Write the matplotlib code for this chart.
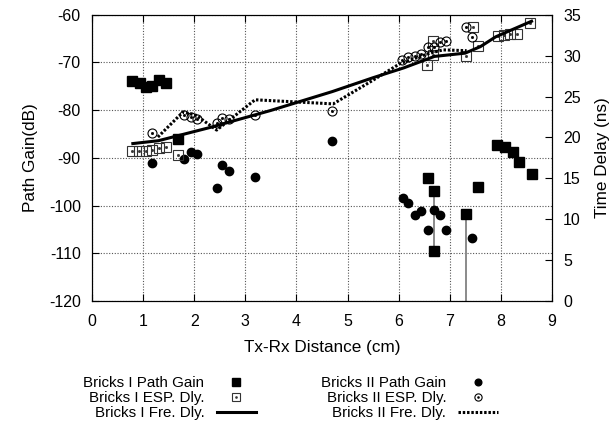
import numpy as np
import matplotlib.pyplot as plt
from matplotlib.legend_handler import HandlerTuple

plt.rcParams['font.family'] = ['Liberation Sans', 'DejaVu Sans']
plt.rcParams['axes.unicode_minus'] = False

# Bricks I path gain (cm, dB)
b1_pg_x = [0.79, 0.94, 1.05, 1.18, 1.31, 1.44, 1.69, 6.57, 6.70, 6.70, 7.32, 7.56,
           7.93, 8.09, 8.23, 8.36, 8.60]
b1_pg_y = [-73.9, -74.4, -75.1, -75.0, -73.6, -74.3, -86.1, -94.3, -97.0, -109.6, -101.7, -96.2,
           -87.4, -87.7, -88.7, -90.8, -93.3]

# Bricks II path gain (cm, dB)
b2_pg_x = [1.18, 1.81, 1.94, 2.06, 2.44, 2.55, 2.68, 3.19, 4.69, 6.08, 6.19, 6.32,
           6.43, 6.57, 6.69, 6.81, 6.93, 7.43]
b2_pg_y = [-91.0, -90.3, -88.7, -89.1, -96.4, -91.5, -92.8, -93.9, -86.4, -98.3, -99.4, -101.9,
           -101.2, -105.0, -101.0, -101.9, -105.0, -106.8]

# Bricks I ESP delay (cm, ns)
b1_esp_x = [0.79, 0.92, 1.05, 1.18, 1.31, 1.44, 1.69, 6.56, 6.68, 6.68, 7.31, 7.45,
            7.56, 7.94, 8.06, 8.18, 8.32, 8.57]
b1_esp_y = [18.3, 18.4, 18.4, 18.5, 18.7, 18.8, 17.9, 28.8, 30.1, 31.8, 29.9, 33.5,
            31.2, 32.4, 32.5, 32.7, 32.6, 34.0]

# Bricks II ESP delay (cm, ns)
b2_esp_x = [1.18, 1.80, 1.93, 2.06, 2.44, 2.55, 2.68, 3.19, 4.69, 6.07, 6.19, 6.32,
            6.43, 6.57, 6.69, 6.81, 6.93, 7.31, 7.43]
b2_esp_y = [20.5, 22.8, 22.5, 22.3, 21.8, 22.4, 22.3, 22.7, 23.2, 29.5, 29.85, 30.0,
            30.2, 31.1, 31.1, 31.7, 31.8, 33.5, 32.3]

# Fresnel delay curves (cm, ns)
b1_fre_x = [0.80, 1.30, 2.30, 3.50, 4.70, 5.50, 6.10, 6.70, 7.30, 7.60, 7.90, 8.60]
b1_fre_y = [19.25, 19.6, 21.2, 23.3, 25.6, 27.3, 28.5, 29.9, 30.3, 31.1, 32.3, 34.2]

b2_fre_x = [1.29, 1.78, 2.04, 2.44, 3.19, 4.72, 5.50, 6.02, 6.61, 6.87, 7.33]
b2_fre_y = [20.05, 23.1, 22.7, 20.9, 24.6, 24.1, 27.0, 29.0, 30.3, 30.7, 30.6]

# gray connectors in path gain
vl_x = [6.70, 7.32]
vl_top = [-97.0, -101.7]
vl_bot = [-109.6, -120.0]

fig = plt.figure(figsize=(6.13, 4.32), dpi=100)
ax = fig.add_axes([0.150, 0.303, 0.7505, 0.663])
ax2 = ax.twinx()

ax.vlines(vl_x, vl_bot, vl_top, colors='#8a8a8a', lw=1.4, zorder=2)
h1, = ax.plot(b1_pg_x, b1_pg_y, 's', color='black', ms=6.5, zorder=3)
h2, = ax.plot(b2_pg_x, b2_pg_y, 'o', color='black', ms=6, zorder=3)

h3a, = ax2.plot(b1_esp_x, b1_esp_y, 's', mfc='none', mec='#333333', mew=0.8, ms=6.5)
h3b, = ax2.plot(b1_esp_x, b1_esp_y, 's', color='#333333', ms=1.0, lw=0)
h4a, = ax2.plot(b2_esp_x, b2_esp_y, 'o', mfc='none', mec='black', mew=0.8, ms=6.5)
h4b, = ax2.plot(b2_esp_x, b2_esp_y, 's', color='black', ms=1.0, lw=0)
h5, = ax2.plot(b1_fre_x, b1_fre_y, '-', color='black', lw=2.2)
h6, = ax2.plot(b2_fre_x, b2_fre_y, color='black', lw=2.2, linestyle=(0, (0.8, 0.6)))

ax.set_xlim(0, 9)
ax.set_ylim(-120, -60)
ax2.set_ylim(0, 35)
ax.set_xticks(range(0, 10))
ax.set_yticks(range(-120, -59, 10))
ax2.set_yticks(range(0, 36, 5))

ax.grid(True, linestyle=(0, (1, 1.5)), color='#555555', lw=0.8)
ax.tick_params(axis='y', direction='in', labelsize=11.5, length=5, pad=8)
ax.tick_params(axis='x', direction='in', labelsize=11.5, length=5, pad=9, top=True)
ax2.tick_params(direction='in', labelsize=11.5, length=5, pad=8)

ax.set_xlabel('Tx-Rx Distance (cm)', fontsize=12.3, labelpad=8)
ax.set_ylabel('Path Gain(dB)', fontsize=12.3, labelpad=8)
ax2.set_ylabel('Time Delay (ns)', fontsize=12.3, labelpad=10)

handles = [h1, (h3a, h3b), h5, h2, (h4a, h4b), h6]
labels = ['Bricks I Path Gain', 'Bricks I ESP. Dly.', 'Bricks I Fre. Dly.',
          'Bricks II Path Gain', 'Bricks II ESP. Dly.', 'Bricks II Fre. Dly.']
fig.legend(handles, labels, ncol=2, markerfirst=False, frameon=False,
           loc='upper center', bbox_to_anchor=(0.474, 0.147), fontsize=10.9,
           handlelength=2.6, handletextpad=0.8, columnspacing=4.3,
           labelspacing=0.08, borderpad=0, markerscale=0.8,
           handler_map={tuple: HandlerTuple(ndivide=1)})

fig.savefig('out.png', dpi=100)
